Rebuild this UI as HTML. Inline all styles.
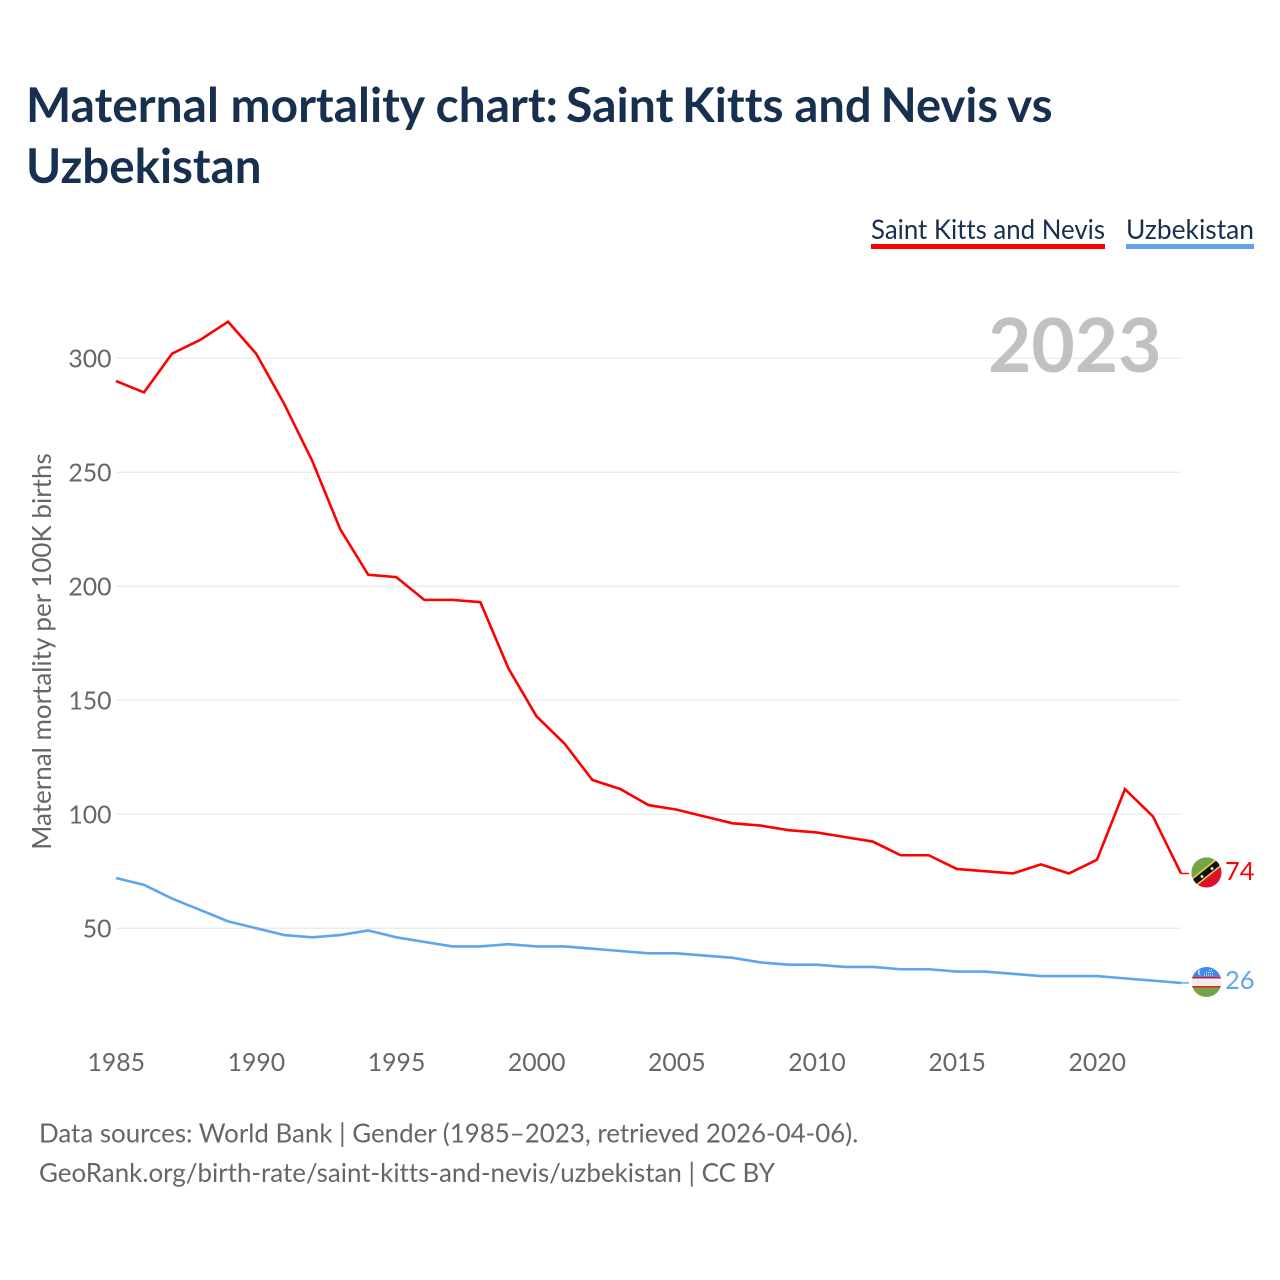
<!DOCTYPE html>
<html lang="en">
<head>
<meta charset="utf-8">
<title>Maternal mortality chart: Saint Kitts and Nevis vs Uzbekistan</title>
<style>
html,body{margin:0;padding:0;background:#fff;width:1280px;height:1280px;overflow:hidden}
svg{display:block}
text{font-family:"Lato","Carlito","Liberation Sans",sans-serif;font-variant-ligatures:none}
</style>
</head>
<body>
<svg id="chart" xmlns="http://www.w3.org/2000/svg" width="1280" height="1280" viewBox="0 0 1280 1280">
  <defs>
    <clipPath id="flag-clip-a"><circle cx="1206.5" cy="872.5" r="15"/></clipPath>
    <clipPath id="flag-clip-b"><circle cx="1206.5" cy="982" r="15"/></clipPath>
  </defs>
  <text y="122" font-size="47.5" font-weight="700" fill="#17304f"><tspan x="26" textLength="532" lengthAdjust="spacingAndGlyphs">Maternal mortality chart:</tspan> <tspan x="566" textLength="107.500" lengthAdjust="spacingAndGlyphs">Saint</tspan> <tspan x="682" textLength="101.500" lengthAdjust="spacingAndGlyphs">Kitts</tspan> <tspan x="794.500" textLength="77" lengthAdjust="spacingAndGlyphs">and</tspan> <tspan x="880.500" textLength="117.500" lengthAdjust="spacingAndGlyphs">Nevis</tspan> <tspan x="1007" textLength="45.500" lengthAdjust="spacingAndGlyphs">vs</tspan></text>
  <text x="26" y="183" font-size="47.5" font-weight="700" fill="#17304f">Uzbekistan</text>

  <g>
    <text x="871" y="239" font-size="27.5" fill="#17304f" textLength="234" lengthAdjust="spacingAndGlyphs">Saint Kitts and Nevis</text>
    <rect x="871" y="244" width="234" height="5" fill="#ff0000"/>
    <text x="1126" y="239" font-size="27.5" fill="#17304f" textLength="128" lengthAdjust="spacingAndGlyphs">Uzbekistan</text>
    <rect x="1126" y="244" width="128" height="5" fill="#5ea5ee"/>
  </g>

  <g id="grid"></g>
  <text x="1161.500" y="372" text-anchor="end" font-size="74.800" font-weight="700" fill="#c1c1c1">2023</text>
  <g id="y-axis"></g>
  <g id="x-axis"></g>
  <text transform="translate(51,651.500) rotate(-90)" text-anchor="middle" font-size="26" fill="#666666">Maternal mortality per 100K births</text>
  <g id="series"></g>

  <g clip-path="url(#flag-clip-a)">
    <rect x="1191" y="857" width="31" height="31" fill="#dc1030"/>
    <polygon points="1186,888 1226,856 1186,850" fill="#72a644"/>
    <line x1="1188" y1="887" x2="1225" y2="857.500" stroke="#f5d34a" stroke-width="9"/>
    <line x1="1188" y1="887" x2="1225" y2="857.500" stroke="#111111" stroke-width="6"/>
    <circle cx="1202" cy="876.500" r="1.400" fill="#ffffff"/>
    <circle cx="1212" cy="868.500" r="1.400" fill="#ffffff"/>
  </g>
  <g clip-path="url(#flag-clip-b)">
    <rect x="1191" y="966" width="31" height="11" fill="#3f8ae8"/>
    <rect x="1191" y="977" width="31" height="10" fill="#f1eeee"/>
    <rect x="1191" y="977" width="31" height="1.500" fill="#e0192e"/>
    <rect x="1191" y="986" width="31" height="1.500" fill="#e0192e"/>
    <rect x="1191" y="987.500" width="31" height="10" fill="#72a644"/>
    <path d="M1201 969.500a3 3 0 1 0 0 6a3.500 3.500 0 0 1 0-6z" fill="#ffffff"/>
    <path d="M1204 975h9M1206 972.500h7M1209 970h3" stroke="#ffffff" stroke-width="1" stroke-dasharray="1 1" fill="none"/>
  </g>
  <text x="1225" y="880" font-size="25.500" fill="#ff0000">74</text>
  <text x="1225" y="989" font-size="25.500" fill="#5ea5ee">26</text>

  <text x="39" y="1142.500" font-size="25.900" fill="#666666">Data sources: World Bank | Gender (1985–2023, retrieved 2026-04-06).</text>
  <text x="39" y="1182" font-size="25.930" fill="#666666">GeoRank.org/birth-rate/saint-kitts-and-nevis/uzbekistan | CC BY</text>
</svg>
<script>
const years = [1985,1986,1987,1988,1989,1990,1991,1992,1993,1994,1995,1996,1997,1998,1999,2000,2001,2002,2003,2004,2005,2006,2007,2008,2009,2010,2011,2012,2013,2014,2015,2016,2017,2018,2019,2020,2021,2022,2023];
const saintKitts = [290,285,302,308,316,302,280,255,225,205,204,194,194,193,164,143,131,115,111,104,102,99,96,95,93,92,90,88,82,82,76,75,74,78,74,80,111,99,74];
const uzbekistan = [72,69,63,58,53,50,47,46,47,49,46,44,42,42,43,42,42,41,40,39,39,38,37,35,34,34,33,33,32,32,31,31,30,29,29,29,28,27,26];
const yTicks = [50,100,150,200,250,300];
const xTicks = [1985,1990,1995,2000,2005,2010,2015,2020];

const NS = 'http://www.w3.org/2000/svg';
const xScale = function (year) { return 116 + (year - 1985) * (1181 - 116) / 38; };
const yScale = function (value) { return 928.2 - (value - 50) * 2.28; };

function make(tag, attrs, parent, content) {
  const el = document.createElementNS(NS, tag);
  Object.keys(attrs).forEach(function (k) { el.setAttribute(k, attrs[k]); });
  if (content !== undefined) el.textContent = content;
  parent.appendChild(el);
  return el;
}

const grid = document.getElementById('grid');
const yAxis = document.getElementById('y-axis');
const xAxis = document.getElementById('x-axis');
const seriesGroup = document.getElementById('series');

yTicks.forEach(function (t) {
  const line = make('line', {x1: 116, x2: 1181, y1: yScale(t), y2: yScale(t), stroke: '#ececec', 'stroke-width': 1.5}, grid);
  
  
  const label = make('text', {x: 111.5, y: yScale(t) + 9.3, 'text-anchor': 'end', 'font-size': 24.8, fill: '#666666'}, yAxis, String(t));
  
  
});

xTicks.forEach(function (t) {
  const label = make('text', {x: xScale(t) + 0.3, y: 1071, 'text-anchor': 'middle', 'font-size': 24.8, fill: '#666666'}, xAxis, String(t));
  
  
});

function drawSeries(values, color, name) {
  const pts = values.map(function (v, i) { return xScale(years[i]).toFixed(2) + ',' + yScale(v).toFixed(2); });
  const path = make('polyline', {points: pts.join(' '), fill: 'none', stroke: color, 'stroke-width': 2.6, 'stroke-linejoin': 'miter'}, seriesGroup);
  
  
  const last = values[values.length - 1];
  const connector = make('line', {x1: xScale(years[years.length - 1]), x2: 1189, y1: yScale(last), y2: yScale(last), stroke: color, 'stroke-width': 1.4}, seriesGroup);
  
  
}
drawSeries(saintKitts, '#ff0000', 'line-saint-kitts');
drawSeries(uzbekistan, '#5ea5ee', 'line-uzbekistan');
</script>
</body>
</html>
